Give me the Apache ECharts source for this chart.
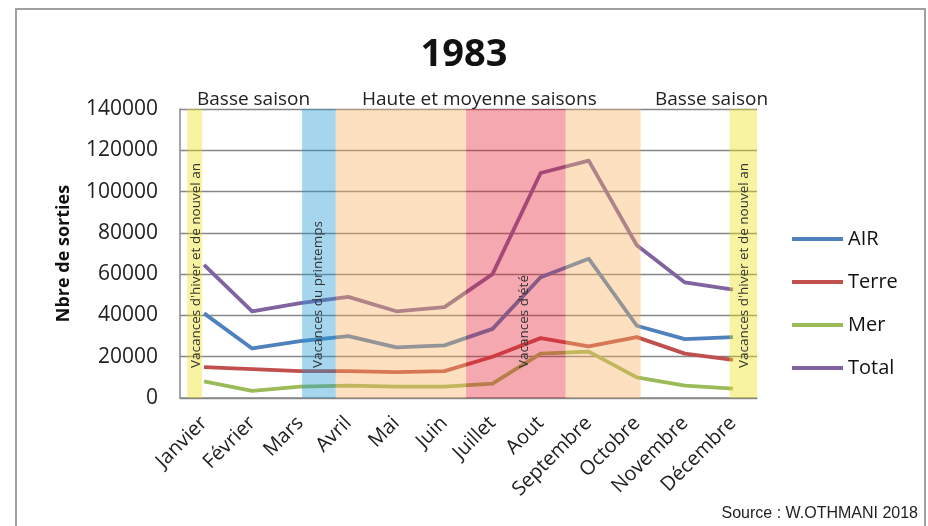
<!DOCTYPE html>
<html>
<head>
<meta charset="utf-8">
<script src="https://cdn.jsdelivr.net/npm/echarts@6/dist/echarts.min.js"></script>
<style>
html, body { margin: 0; padding: 0; background: #fff; }
#chart { width: 928px; height: 526px; }
</style>
</head>
<body>
<div id="chart"></div>
<script>
var months = ['Janvier', 'Février', 'Mars', 'Avril', 'Mai', 'Juin', 'Juillet', 'Aout', 'Septembre', 'Octobre', 'Novembre', 'Décembre'];
var air = [41000, 24000, 27500, 30000, 24500, 25500, 33500, 58500, 67500, 35000, 28500, 29500];
var terre = [15000, 14000, 13000, 13000, 12500, 13000, 20000, 29000, 25000, 29500, 21500, 18500];
var mer = [8000, 3500, 5500, 6000, 5500, 5500, 7000, 21500, 22500, 10000, 6000, 4500];
var total = [64500, 42000, 46000, 49000, 42000, 44000, 60000, 109000, 115000, 74000, 56000, 52500];
var yTicks = [0, 20000, 40000, 60000, 80000, 100000, 120000, 140000];

// bandes de periodes, en unites de categorie (0 = bord gauche de Janvier)
var bandStart = [0.15, 2.54, 3.24, 5.95, 8.02, 11.43];
var bandEnd = [0.46, 3.24, 5.95, 8.02, 9.58, 12];
var bandKind = ['hiver', 'printemps', 'saison', 'ete', 'saison', 'hiver'];
var bandColors = {
	hiver : 'rgba(238,225,17,0.4)',
	printemps : 'rgba(33,153,213,0.4)',
	saison : 'rgba(250,178,98,0.4)',
	ete : 'rgba(228,25,48,0.38)'
};

var font = '"Open Sans", "Noto Sans", sans-serif';
var myChart = echarts.init(document.getElementById('chart'));

function vText(x, y, s) {
	return {
		type : 'text', x : x, y : y, z : 100, rotation : Math.PI / 2, silent : true,
		style : { text : s, font : '13.5px ' + font, fill : '#333', align : 'left', verticalAlign : 'middle' }
	};
}
function hText(x, y, s) {
	return {
		type : 'text', x : x, y : y, z : 100, silent : true,
		style : { text : s, font : '19px ' + font, fill : '#222', align : 'left', verticalAlign : 'middle' }
	};
}

function line(name, data, color) {
	return {
		name : name,
		type : 'line',
		data : data,
		z : 2,
		showSymbol : false,
		lineStyle : { width : 3.8, color : color, join : 'round' },
		itemStyle : { color : color }
	};
}

var option = {
	animation : false,
	backgroundColor : '#fff',
	title : {
		text : '1983',
		left : 'center',
		top : 31,
		textStyle : { fontSize : 38, fontWeight : 'bold', fontFamily : font, color : '#111' }
	},
	legend : {
		orient : 'vertical',
		left : 792,
		top : 229,
		icon : 'rect',
		itemWidth : 51,
		itemHeight : 4,
		itemGap : 23,
		padding : 0,
		textStyle : { fontSize : 20, lineHeight : 20, fontFamily : font, color : '#111' },
		data : ['AIR', 'Terre', 'Mer', 'Total']
	},
	grid : { left : 180, right : 171, top : 109, bottom : 128 },
	xAxis : [ {
		type : 'category',
		data : months,
		boundaryGap : true,
		axisLine : { lineStyle : { color : '#888', width : 1.5 } },
		axisTick : { show : false },
		axisLabel : { rotate : 45, interval : 0, fontSize : 20, fontFamily : font, color : '#222', margin : 22 }
	}, {
		type : 'value',
		min : 0,
		max : 12,
		show : false
	} ],
	yAxis : {
		type : 'value',
		min : yTicks[0],
		max : yTicks[yTicks.length - 1],
		interval : yTicks[1] - yTicks[0],
		name : 'Nbre de sorties',
		nameLocation : 'middle',
		nameRotate : 90,
		nameGap : 107,
		nameTextStyle : { fontSize : 18, fontWeight : 'bold', fontFamily : font, color : '#111' },
		axisLine : { show : true, lineStyle : { color : '#888', width : 1.5 } },
		axisTick : { show : false },
		axisLabel : { fontSize : 21, fontFamily : font, color : '#222', margin : 22,
			formatter : function(v) { return String(v); } },
		splitLine : { lineStyle : { color : '#868686', width : 1.3 } }
	},
	series : [
		line('AIR', air, '#4f81bd'),
		line('Terre', terre, '#c0504d'),
		line('Mer', mer, '#9bbb59'),
		line('Total', total, '#8064a2'),
		{
			type : 'custom',
			xAxisIndex : 1,
			yAxisIndex : 0,
			z : 5,
			silent : true,
			data : bandStart.map(function(s, i) { return [s, bandEnd[i], i]; }),
			encode : { x : [0, 1] },
			renderItem : function(params, api) {
				var p0 = api.coord([api.value(0), yTicks[yTicks.length - 1]]);
				var p1 = api.coord([api.value(1), 0]);
				return {
					type : 'rect',
					shape : { x : p0[0], y : p0[1], width : p1[0] - p0[0], height : p1[1] - p0[1] },
					style : { fill : bandColors[bandKind[api.value(2)]] }
				};
			}
		}
	],
	graphic : [
		{ type : 'rect', z : 100, silent : true, shape : { x : 16, y : 9, width : 909, height : 540 },
			style : { fill : null, stroke : '#a0a0a0', lineWidth : 2 } },
		hText(197, 100, 'Basse saison'),
		hText(362, 100, 'Haute et moyenne saisons'),
		hText(655, 100, 'Basse saison'),
		vText(196, 368, 'Vacances d\'hiver et de nouvel an'),
		vText(318, 368, 'Vacances du printemps'),
		vText(524, 368, 'Vacances d\'été'),
		vText(744, 368, 'Vacances d\'hiver et de nouvel an'),
		{ type : 'text', z : 100, silent : true, x : 918, y : 514,
			style : { text : 'Source : W.OTHMANI 2018', font : '16px "Liberation Sans", Arial, sans-serif', fill : '#222', align : 'right', verticalAlign : 'middle' } }
	]
};
myChart.setOption(option);
</script>
</body>
</html>
